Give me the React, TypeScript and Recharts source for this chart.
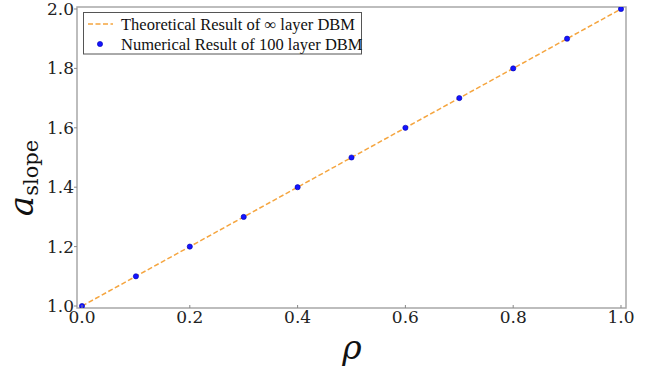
import React from 'react';
import {
  ComposedChart,
  Line,
  Scatter,
  XAxis,
  YAxis,
  ReferenceArea,
  Customized,
} from 'recharts';

// Sample positions of rho
const rhoValues = [0, 0.1, 0.2, 0.3, 0.4, 0.5, 0.6, 0.7, 0.8, 0.9, 1.0];
// Slope measured from the 100-layer network
const numericalSlope = [1.0, 1.1, 1.2, 1.3, 1.4, 1.5, 1.6, 1.7, 1.8, 1.9, 2.0];
// Slope predicted for the infinitely deep network
const theoreticalSlope = [1.0, 1.1, 1.2, 1.3, 1.4, 1.5, 1.6, 1.7, 1.8, 1.9, 2.0];

const xTicks = [0, 0.2, 0.4, 0.6, 0.8, 1.0];
const yTicks = [1.0, 1.2, 1.4, 1.6, 1.8, 2.0];

const legendLabels = [
  'Theoretical Result of \u221e layer DBM',
  'Numerical Result of 100 layer DBM',
];

const data = rhoValues.map((rho, i) => ({
  rho,
  numerical: numericalSlope[i],
  theory: theoreticalSlope[i],
}));

const X_DOMAIN: [number, number] = [-0.0093, 1.0093];
const Y_DOMAIN: [number, number] = [0.9933, 2.0067];

const W = 662;
const H = 371;
const LEFT = 77;
const RIGHT = 626;
const TOP = 7;
const BOTTOM = 308;

const ORANGE = '#f5a53f';
const BLUE = '#1414ff';
const TICK_FONT = '"DejaVu Serif", serif';
const LEGEND_FONT = '"Liberation Serif", "DejaVu Serif", serif';

const XTick = (props: any) => {
  const { x, y, payload } = props;
  return (
    <g>
      <line x1={x} x2={x} y1={y - 3} y2={y} stroke="#888" strokeWidth={1} />
      <text
        x={x}
        y={y + 15}
        textAnchor="middle"
        fontFamily={TICK_FONT}
        fontSize={17}
        fill="#222"
      >
        {Number(payload.value).toFixed(1)}
      </text>
    </g>
  );
};

const Dot = (props: any) => {
  const { cx, cy } = props;
  return <circle cx={cx} cy={cy} r={2.6} fill={BLUE} stroke="#0000b0" strokeWidth={0.6} />;
};

const Decorations = () => (
  <g>
    {/* legend box */}
    <rect x={83.5} y={12.5} width={278} height={41.5} fill="#fff" stroke="#555" strokeWidth={1} />
    <line x1={88} x2={113} y1={24} y2={24} stroke={ORANGE} strokeWidth={1.5} strokeDasharray="5 2.5" />
    <text x={121} y={29.5} fontFamily={LEGEND_FONT} fontSize={16.5} fill="#111">
      {legendLabels[0]}
    </text>
    <circle cx={100} cy={44} r={2.6} fill={BLUE} stroke="#0000b0" strokeWidth={0.6} />
    <text x={121} y={49.5} fontFamily={LEGEND_FONT} fontSize={16.5} fill="#111">
      {legendLabels[1]}
    </text>
    {/* axis titles */}
    <text
      x={352}
      y={359}
      textAnchor="middle"
      fontFamily={TICK_FONT}
      fontStyle="italic"
      fontSize={33}
      fill="#111"
    >
      ρ
    </text>
    <text
      transform="translate(33,178) rotate(-90)"
      textAnchor="middle"
      fontFamily={TICK_FONT}
      fill="#111"
    >
      <tspan fontStyle="italic" fontSize={34}>a</tspan>
      <tspan fontSize={21} dy={5}>slope</tspan>
    </text>
  </g>
);

export default function App() {
  return (
    <div style={{ position: 'absolute', left: 0, top: 0, width: W, height: H, background: '#fff' }}>
      <ComposedChart
        width={W}
        height={H}
        data={data}
        margin={{ top: TOP, right: W - RIGHT, bottom: 0, left: 0 }}
      >
        <XAxis
          type="number"
          dataKey="rho"
          domain={X_DOMAIN}
          ticks={xTicks}
          height={H - BOTTOM}
          tickSize={0}
          tickMargin={0}
          tickLine={false}
          axisLine={false}
          tick={<XTick />}
          interval={0}
          allowDataOverflow
        />
        <YAxis
          type="number"
          domain={Y_DOMAIN}
          ticks={yTicks}
          width={LEFT}
          tickSize={3}
          tickMargin={0}
          tickLine={{ stroke: '#888' }}
          axisLine={false}
          tick={{ fontFamily: TICK_FONT, fontSize: 17, fill: '#222' }}
          tickFormatter={(v: number) => v.toFixed(1)}
          interval={0}
          allowDataOverflow
        />
        {/* plot frame */}
        <ReferenceArea
          x1={X_DOMAIN[0]}
          x2={X_DOMAIN[1]}
          y1={Y_DOMAIN[0]}
          y2={Y_DOMAIN[1]}
          fill="none"
          fillOpacity={0}
          stroke="#a8a8a8"
          strokeWidth={1.5}
          ifOverflow="visible"
        />
        <Line
          type="linear"
          dataKey="theory"
          stroke={ORANGE}
          strokeWidth={1.5}
          strokeDasharray="5 2.5"
          dot={false}
          activeDot={false}
          isAnimationActive={false}
        />
        <Scatter
          dataKey="numerical"
          shape={<Dot />}
          isAnimationActive={false}
        />
        <Customized component={Decorations} />
      </ComposedChart>
    </div>
  );
}
